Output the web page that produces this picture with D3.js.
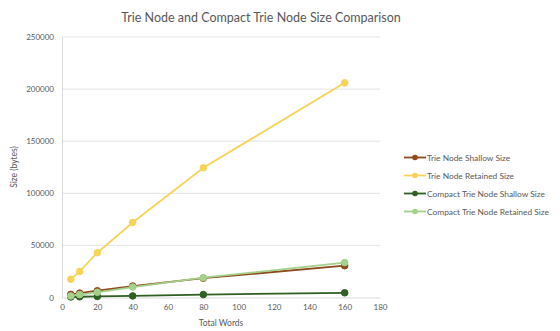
<!DOCTYPE html>
<html><head><meta charset="utf-8">
<script src="https://cdn.jsdelivr.net/npm/d3@7"></script>
<style>body{margin:0;background:#fff;}svg{font-family:Lato,"Open Sans",sans-serif;}</style>
</head><body>
<svg id="c" width="560" height="331"></svg>
<script>
const words = [5, 10, 20, 40, 80, 160];
const trieShallow = [3000, 4200, 6500, 11000, 18500, 30500];
const trieRetained = [17500, 25000, 43000, 72000, 124500, 206000];
const compactShallow = [500, 700, 1000, 1500, 2800, 4500];
const compactRetained = [1500, 2800, 5000, 10000, 19000, 33500];
const seriesNames = ["Trie Node Shallow Size", "Trie Node Retained Size", "Compact Trie Node Shallow Size", "Compact Trie Node Retained Size"];
const seriesColors = ["#8e4a1c", "#f7d35a", "#2f5f22", "#a3d08a"];
const seriesValues = [trieShallow, trieRetained, compactShallow, compactRetained];
const xTicks = [0, 20, 40, 60, 80, 100, 120, 140, 160, 180];
const yTicks = [0, 50000, 100000, 150000, 200000, 250000];

const svg = d3.select("#c");
const L = 62, R = 380, T = 37, B = 297.5;
const x = d3.scaleLinear().domain([0, 180]).range([L, R]);
const y = d3.scaleLinear().domain([0, 250000]).range([B, T]);

svg.append("text").attr("x", 261).attr("y", 22).attr("text-anchor", "middle")
  .attr("font-size", 12.5).attr("fill", "#595959").text("Trie Node and Compact Trie Node Size Comparison");

svg.append("g").selectAll("line").data(yTicks.slice(1)).join("line")
  .attr("x1", L).attr("x2", R).attr("y1", d => y(d)).attr("y2", d => y(d))
  .attr("stroke", "#e3e3e3").attr("stroke-width", 1);

const yAxis = svg.append("g").attr("transform", `translate(${L},0)`)
  .call(d3.axisLeft(y).tickValues(yTicks).tickSize(0).tickPadding(8).tickFormat(d3.format("d")));
yAxis.select(".domain").attr("stroke", "#d9d9d9");
yAxis.selectAll("text").attr("font-size", 8).attr("fill", "#595959").attr("font-family", "Lato");

const xAxis = svg.append("g").attr("transform", `translate(0,${B})`)
  .call(d3.axisBottom(x).tickValues(xTicks).tickSize(0).tickPadding(7));
xAxis.select(".domain").attr("stroke", "#d9d9d9");
xAxis.selectAll("text").attr("font-size", 8).attr("fill", "#595959").attr("font-family", "Lato");

svg.append("text").attr("x", 221).attr("y", 326).attr("text-anchor", "middle")
  .attr("font-size", 8.5).attr("fill", "#595959").text("Total Words");
svg.append("text").attr("transform", "translate(17,167) rotate(-90)").attr("text-anchor", "middle")
  .attr("font-size", 8.5).attr("fill", "#595959").text("Size (bytes)");

const line = d3.line().x((d, i) => x(words[i])).y(d => y(d));
[0, 1, 2, 3].forEach(k => {
  const g = svg.append("g");
  g.append("path").datum(seriesValues[k]).attr("d", line).attr("fill", "none")
    .attr("stroke", seriesColors[k]).attr("stroke-width", 1.8);
  g.selectAll("circle").data(seriesValues[k]).join("circle")
    .attr("cx", (d, i) => x(words[i])).attr("cy", d => y(d)).attr("r", 3.3)
    .attr("fill", seriesColors[k]).attr("stroke", seriesColors[k]);
});

const lg = svg.append("g");
seriesNames.forEach((n, i) => {
  const yy = 157.5 + i * 18;
  lg.append("line").attr("x1", 404).attr("x2", 426).attr("y1", yy).attr("y2", yy)
    .attr("stroke", seriesColors[i]).attr("stroke-width", 1.8);
  lg.append("circle").attr("cx", 415).attr("cy", yy).attr("r", 2.8).attr("fill", seriesColors[i]);
  lg.append("text").attr("x", 427).attr("y", yy + 3).attr("font-size", 8.4)
    .attr("fill", "#595959").text(n);
});
</script>
</body></html>
